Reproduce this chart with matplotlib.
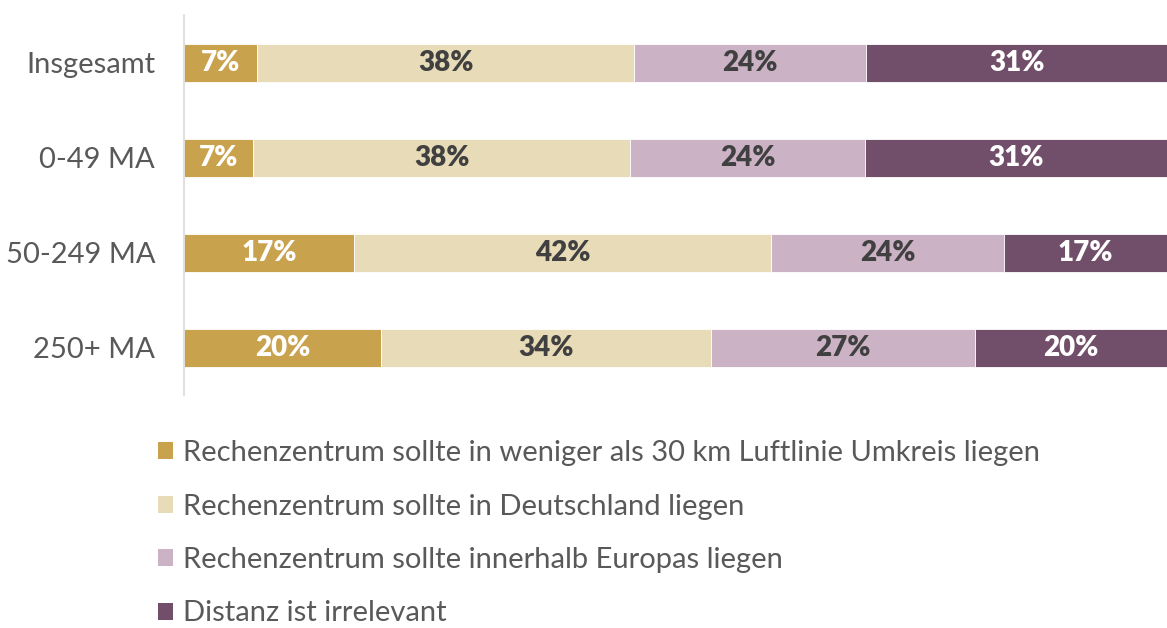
import matplotlib.pyplot as plt
from matplotlib.patches import Patch

plt.rcParams['font.family'] = ['Lato', 'DejaVu Sans']

groups = ["Insgesamt", "0-49 MA", "50-249 MA", "250+ MA"]
series = [
    "Rechenzentrum sollte in weniger als 30 km Luftlinie Umkreis liegen",
    "Rechenzentrum sollte in Deutschland liegen",
    "Rechenzentrum sollte innerhalb Europas liegen",
    "Distanz ist irrelevant",
]
# shares per group (printed labels are rounded)
near = [7.4, 7.0, 17.3, 20.0]
germany = [38.4, 38.4, 42.4, 33.6]
europe = [23.6, 23.9, 23.7, 26.9]
irrelevant = [30.6, 30.7, 16.6, 19.5]

colors = ["#C9A24D", "#E8DBB7", "#CBB3C5", "#714E69"]
label_colors = ["white", "#404040", "#404040", "white"]

fig = plt.figure(figsize=(11.67, 6.28), dpi=100)
ax = fig.add_axes([0.158, 0.371, 0.842, 0.605])

ypos = list(range(len(groups)))
left = [0.0] * len(groups)
for vals, col, tcol in zip([near, germany, europe, irrelevant], colors, label_colors):
    bars = ax.barh(ypos, vals, left=left, height=0.4, color=col,
                   edgecolor="white", linewidth=0.6)
    for b, v in zip(bars, vals):
        ax.text(b.get_x() + b.get_width() / 2, b.get_y() + b.get_height() / 2,
                f"{v:.0f}%", ha="center", va="center", color=tcol,
                fontsize=20, fontweight="heavy")
    left = [l + v for l, v in zip(left, vals)]

ax.set_xlim(0, 100)
ax.set_ylim(3.5, -0.5)
ax.set_yticks(ypos)
ax.set_yticklabels(groups, fontsize=21, color="#595959")
ax.tick_params(axis="y", length=0, pad=21)
ax.set_xticks([])
for s in ["top", "right", "bottom"]:
    ax.spines[s].set_visible(False)
ax.spines["left"].set_color("#D9D9D9")
ax.spines["left"].set_linewidth(1.2)

handles = [Patch(facecolor=c, edgecolor="none") for c in colors]
fig.legend(handles, series, loc="upper left", bbox_to_anchor=(0.1354, 0.299),
           frameon=False, fontsize=21, labelcolor="#595959",
           handlelength=0.52, handleheight=0.52, handletextpad=0.34,
           labelspacing=0.94, borderaxespad=0, borderpad=0)

fig.savefig("out.png", dpi=100)
